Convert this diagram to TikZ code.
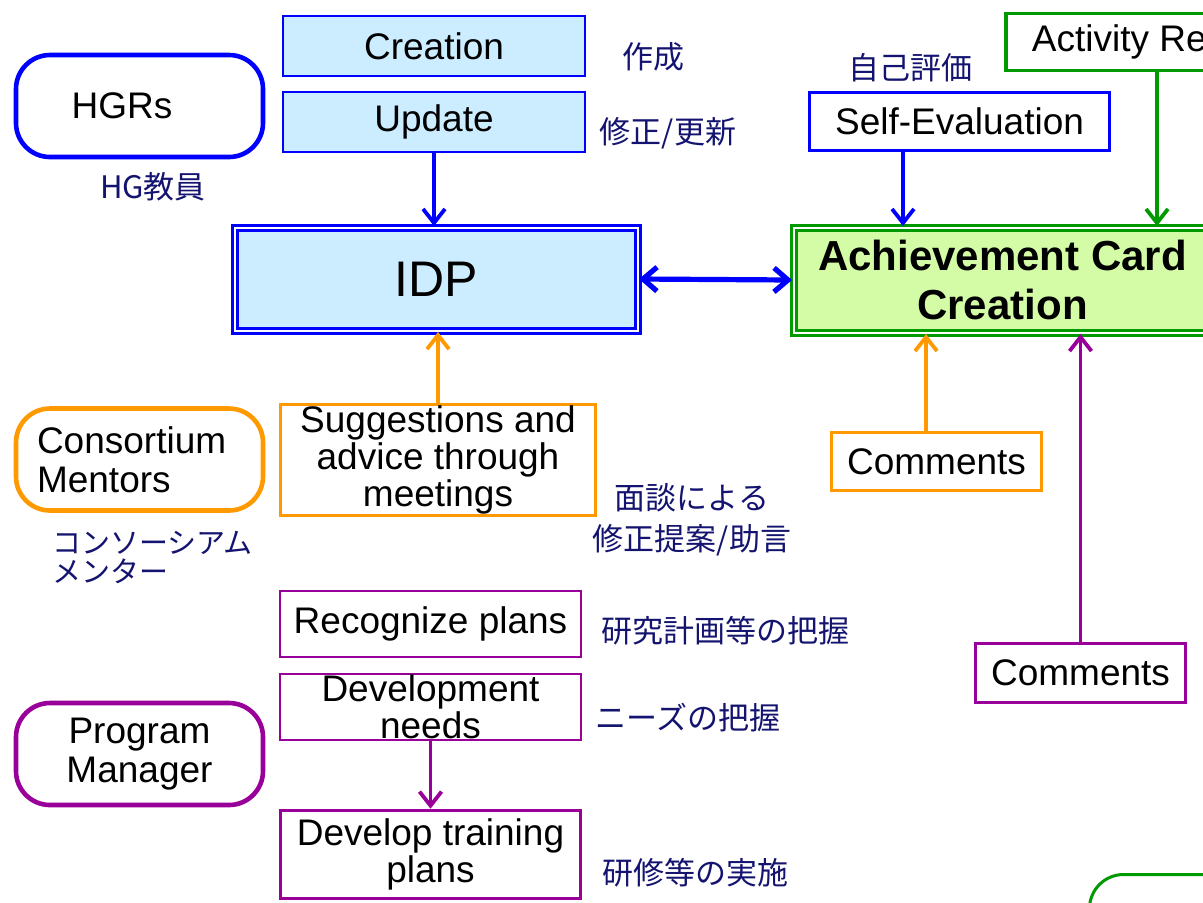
\documentclass[tikz,border=0pt]{standalone}
\usepackage{fontspec}
\setmainfont{Liberation Sans}
\newfontfamily\jpfont{Noto Sans CJK JP}
\usetikzlibrary{arrows.meta}
\definecolor{ppblue}{RGB}{0,0,255}
\definecolor{ppsky}{RGB}{204,236,255}
\definecolor{ppgreen}{RGB}{0,153,0}
\definecolor{pplime}{RGB}{212,252,166}
\definecolor{pporange}{RGB}{255,153,0}
\definecolor{pppurple}{RGB}{153,0,153}
\definecolor{ppnavy}{RGB}{20,20,112}
\begin{document}
\begin{tikzpicture}
[x=0.5pt,y=-0.5pt,
  boxdecorate/.style={shape=rectangle,draw,inner sep=0pt,align=center,font=\fontsize{18.5}{18.7}\selectfont},%
  roledecorate/.style={shape=rectangle,rounded corners=17pt,draw,line width=2.3pt,minimum width=123.5pt,minimum height=51pt,inner sep=0pt,align=center,font=\fontsize{18.5}{19.7}\selectfont},%
  maindecorate/.style={shape=rectangle,draw,double=white,line width=1.5pt,double distance=1pt,inner sep=0pt,align=center},%
  jpdecorate/.style={text=ppnavy,inner sep=0pt,align=center,font=\jpfont\fontsize{15.5}{20.5}\selectfont},%
  arrowdecorate/.style={-{Straight Barb[length=7pt,width=11pt]},line width=1.9pt}]
\useasboundingbox (0,0) rectangle (1203,902);
\clip (0,0) rectangle (1203,902);
%% HGRs side
\node (creation) at (434,46) [boxdecorate,draw=ppblue,fill=ppsky,line width=1pt,minimum width=151pt,minimum height=30pt] {Creation};
\node (update) at (434,122) [boxdecorate,draw=ppblue,fill=ppsky,line width=1pt,minimum width=151pt,minimum height=30pt] {Update};
\node (hgrs) at (139.5,106) [roledecorate,draw=ppblue] {HGRs\hspace*{17.5pt}};
\node (idp) at (436,279) [maindecorate,draw=ppblue,fill=ppsky,minimum width=201.5pt,minimum height=51.5pt,font=\fontsize{25}{25}\selectfont] {IDP};
\node (selfeval) at (959.5,121.5) [boxdecorate,draw=ppblue,line width=1.9pt,minimum width=150pt,minimum height=29pt] {Self-Evaluation};
%% achievement card side
\node (achieve) at (1002.5,280) [maindecorate,draw=ppgreen,fill=pplime,minimum width=209pt,minimum height=52.5pt,font=\bfseries\fontsize{21}{24.5}\selectfont] {Achievement Card\\Creation};
\node (activity) at (1004,42) [boxdecorate,anchor=west,draw=ppgreen,line width=1.9pt,minimum height=28.5pt,inner xsep=13pt] {Activity Report};
\node (closing) at (1088,873) [roledecorate,anchor=north west,draw=ppgreen,line width=1.5pt] {};
%% consortium mentors
\node (consort) at (139.5,459.5) [roledecorate,draw=pporange,align=left,text width=102.5pt,inner xsep=10.5pt] {Consortium\\Mentors};
\node (suggest) at (438,460) [boxdecorate,draw=pporange,line width=1.6pt,minimum width=157.5pt,minimum height=55.5pt] {Suggestions and\\advice through\\meetings};
\node (comorange) at (936.5,461.5) [boxdecorate,draw=pporange,line width=1.6pt,minimum width=105pt,minimum height=29pt] {Comments};
%% program manager
\node (recog) at (430.5,624) [boxdecorate,draw=pppurple,line width=1pt,minimum width=150.5pt,minimum height=33pt] {Recognize plans};
\node (needs) at (430.5,707) [boxdecorate,draw=pppurple,line width=1pt,minimum width=150.5pt,minimum height=33pt] {Development\\needs};
\node (progmgr) at (139.5,754) [roledecorate,draw=pppurple] {Program\\Manager};
\node (training) at (430.5,854.5) [boxdecorate,draw=pppurple,line width=1.8pt,minimum width=150pt,minimum height=44pt] {Develop training\\plans};
\node (compurple) at (1080.5,673) [boxdecorate,draw=pppurple,line width=1.8pt,minimum width=105pt,minimum height=29.5pt] {Comments};
%% japanese notes
\foreach \nodename/\x/\y/\txt in {lbcreate/653/57/作成, lbupdate/668/133/{修正/更新},
  lbhg/153/187/HG教員, lbself/910/68/自己評価, lbrecog/725/631/研究計画等の把握,
  lbneeds/688/718/ニーズの把握, lbtrain/695/873/研修等の実施} {
  \node (\nodename) at (\x,\y) [jpdecorate] {\txt};
}
\node (lbmeet) at (692,520) [jpdecorate] {面談による\\修正提案/助言};
\node (lbcons) at (52,557) [jpdecorate,anchor=west,align=left,font=\jpfont\fontsize{14.5}{14.5}\selectfont] {コンソーシアム\\メンター};
%% edges
\coordinate (selfout) at ([xshift=-28.25pt]selfeval.south);
\coordinate (actout) at ([xshift=76.5pt]activity.south west);
\coordinate (comout) at ([xshift=-5.25pt]comorange.north);
\path
(update.south) edge[arrowdecorate,draw=ppblue] (update.south |- idp.north)
(selfout) edge[arrowdecorate,draw=ppblue] (selfout |- achieve.north)
(idp.east) edge[{Straight Barb[length=7pt,width=12pt]}-{Straight Barb[length=7pt,width=12pt]},line width=2.6pt,draw=ppblue] (achieve.west)
(actout) edge[arrowdecorate,draw=ppgreen] (actout |- achieve.north)
(suggest.north) edge[arrowdecorate,draw=pporange] (suggest.north |- idp.south)
(comout) edge[arrowdecorate,draw=pporange] (comout |- achieve.south)
(needs.south) edge[arrowdecorate,draw=pppurple] (training.north)
(compurple.north) edge[arrowdecorate,draw=pppurple] (compurple.north |- achieve.south);
\end{tikzpicture}
\end{document}
